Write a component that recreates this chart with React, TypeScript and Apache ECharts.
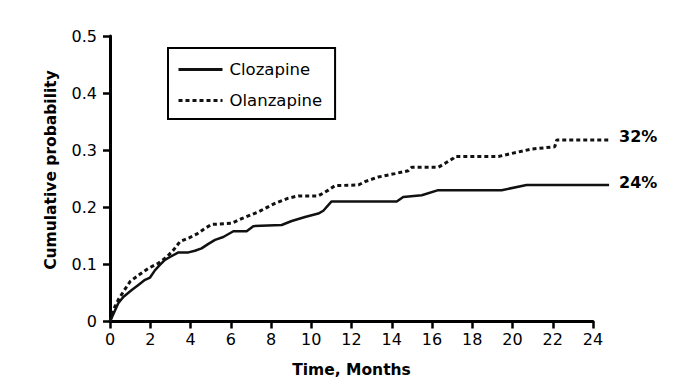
import React, { useEffect, useRef } from "react";
import * as echarts from "echarts";

const clozapineMonths = [0, 0.08, 0.41, 0.66, 1.08, 1.41, 1.74, 1.99, 2.24, 2.48, 2.73, 2.98, 3.4, 3.9, 4.22, 4.55, 4.89, 5.22, 5.63, 6.13, 6.79, 7.12, 8.53, 9.03, 9.69, 10.35, 10.6, 11.0, 14.25, 14.57, 15.49, 16.31, 19.46, 20.7, 24.8];
const clozapineValues = [0, 0.006, 0.032, 0.043, 0.055, 0.064, 0.073, 0.077, 0.09, 0.099, 0.108, 0.113, 0.121, 0.121, 0.124, 0.128, 0.136, 0.143, 0.148, 0.158, 0.158, 0.167, 0.169, 0.176, 0.183, 0.189, 0.194, 0.21, 0.21, 0.218, 0.221, 0.23, 0.23, 0.239, 0.239];

const olanzapineMonths = [0, 0.16, 0.41, 0.66, 1.0, 1.41, 1.9, 2.4, 2.82, 3.15, 3.48, 3.9, 4.3, 4.72, 5.05, 6.05, 6.54, 7.37, 8.2, 8.86, 9.36, 10.35, 10.85, 11.18, 12.34, 12.67, 13.33, 14.16, 14.82, 14.99, 16.31, 16.65, 17.06, 17.14, 19.3, 19.79, 20.95, 22.1, 22.2, 24.8];
const olanzapineValues = [0, 0.02, 0.038, 0.052, 0.07, 0.081, 0.093, 0.102, 0.113, 0.125, 0.14, 0.146, 0.153, 0.163, 0.17, 0.172, 0.18, 0.192, 0.207, 0.216, 0.22, 0.22, 0.23, 0.238, 0.239, 0.245, 0.253, 0.259, 0.264, 0.27, 0.27, 0.277, 0.286, 0.289, 0.289, 0.293, 0.302, 0.306, 0.318, 0.318];

const seriesNames = ["Clozapine", "Olanzapine"];
const endLabels = ["24%", "32%"];
const xTitle = "Time, Months";
const yTitle = "Cumulative probability";

const FONT = "DejaVu Sans";

// axis frame: months 0..24 over the drawn axis; the curves run on to 24.8 months
const AXIS_MAX = 24;
const DATA_MAX = 24.8;

export default function App() {
  const ref = useRef<HTMLDivElement>(null);
  useEffect(() => {
    if (!ref.current) return;
    const chart = echarts.init(ref.current, null, { renderer: "svg" });
    const zip = (xs: number[], ys: number[]) => xs.map((x, i) => [x, ys[i]]);
    const endLabel = (text: string) => ({
      show: true,
      formatter: text,
      distance: 10,
      offset: [0, -3],
      fontSize: 16,
      fontWeight: "bold",
      fontFamily: FONT,
      color: "#000",
    });
    const left = 110;
    const axisRight = 99;
    const plotWidth = 692 - left - axisRight;
    const dataRight = 692 - left - (plotWidth * DATA_MAX) / AXIS_MAX;
    chart.setOption({
      animation: false,
      backgroundColor: "#fff",
      grid: [
        { left, right: axisRight, top: 36, bottom: 69.5 },
        { left, right: dataRight, top: 36, bottom: 69.5 },
      ],
      legend: {
        orient: "vertical",
        left: 168,
        top: 48,
        padding: [13, 13, 10, 9],
        itemGap: 14,
        itemWidth: 44,
        itemHeight: 16,
        borderColor: "#000",
        borderWidth: 2,
        data: seriesNames,
        itemStyle: { opacity: 0 },
        lineStyle: { width: 3 },
        textStyle: { fontSize: 16.5, fontFamily: FONT, color: "#000", padding: [0, 0, 0, 2] },
      },
      xAxis: [
        {
          type: "value",
          gridIndex: 0,
          min: 0,
          max: AXIS_MAX,
          interval: 2,
          splitLine: { show: false },
          axisLine: { show: true, onZero: false, lineStyle: { color: "#000", width: 3 } },
          axisTick: { show: true, length: 7, lineStyle: { color: "#000", width: 2.5 } },
          axisLabel: { color: "#000", fontSize: 16, fontFamily: FONT, margin: 10 },
        },
        {
          type: "value",
          gridIndex: 1,
          min: 0,
          max: DATA_MAX,
          show: false,
        },
      ],
      yAxis: [
        {
          type: "value",
          gridIndex: 0,
          min: 0,
          max: 0.5,
          interval: 0.1,
          splitLine: { show: false },
          axisLine: { show: true, onZero: false, lineStyle: { color: "#000", width: 3 } },
          axisTick: { show: true, length: 7, lineStyle: { color: "#000", width: 2.5 } },
          axisLabel: {
            color: "#000",
            fontSize: 16,
            fontFamily: FONT,
            margin: 13,
            formatter: (v: number) => (v === 0 ? "0" : v.toFixed(1)),
          },
        },
        {
          type: "value",
          gridIndex: 1,
          min: 0,
          max: 0.5,
          show: false,
        },
      ],
      graphic: [
        {
          type: "text",
          x: 351.5,
          y: 370,
          style: {
            text: xTitle,
            fontSize: 15.5,
            fontWeight: "bold",
            fontFamily: FONT,
            fill: "#000",
            align: "center",
            verticalAlign: "middle",
          },
        },
        {
          type: "text",
          x: 51,
          y: 170,
          rotation: Math.PI / 2,
          style: {
            text: yTitle,
            fontSize: 15.5,
            fontWeight: "bold",
            fontFamily: FONT,
            fill: "#000",
            align: "center",
            verticalAlign: "middle",
          },
        },
      ],
      series: [
        {
          name: seriesNames[0],
          type: "line",
          xAxisIndex: 1,
          yAxisIndex: 1,
          data: zip(clozapineMonths, clozapineValues),
          symbol: "none",
          lineStyle: { color: "#111", width: 2.5, type: "solid" },
          itemStyle: { color: "#111" },
          endLabel: endLabel(endLabels[0]),
        },
        {
          name: seriesNames[1],
          type: "line",
          xAxisIndex: 1,
          yAxisIndex: 1,
          data: zip(olanzapineMonths, olanzapineValues),
          symbol: "none",
          lineStyle: { color: "#111", width: 3, type: [4, 3] },
          itemStyle: { color: "#111" },
          endLabel: endLabel(endLabels[1]),
        },
      ],
    });
    return () => chart.dispose();
  }, []);
  return <div ref={ref} style={{ width: 692, height: 391, position: "absolute", left: 0, top: 0 }} />;
}
